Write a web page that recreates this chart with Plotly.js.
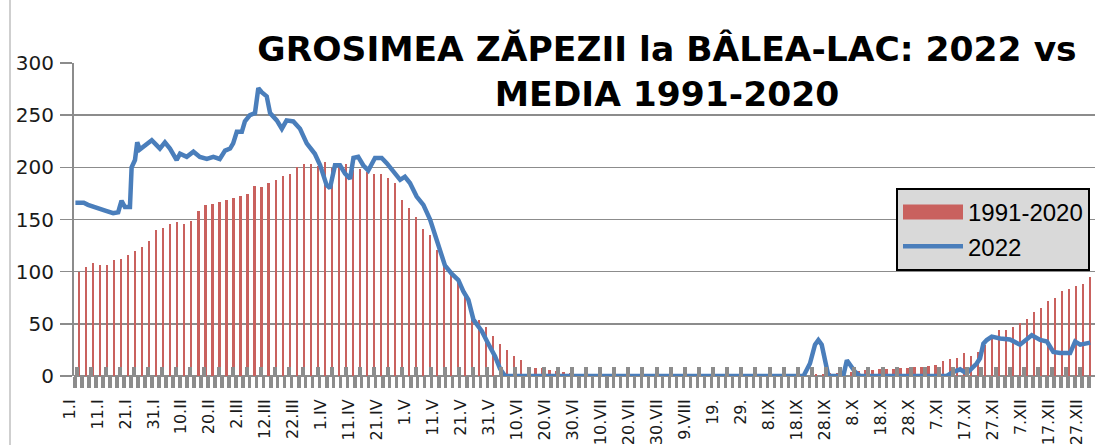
<!DOCTYPE html>
<html>
<head>
<meta charset="utf-8">
<script src="https://cdn.plot.ly/plotly-3.0.1.min.js"></script>
<style>
  html, body { margin: 0; padding: 0; background: #ffffff; }
  #wrap { position: relative; width: 1114px; height: 445px; }
  #chart { width: 1114px; height: 445px; }
  #frame { position: absolute; left: 9px; top: 0; width: 2px; height: 445px; background: #cfcfcf; pointer-events: none; }
</style>
</head>
<body>
<div id="wrap">
  <div id="chart"></div>
  <div id="frame"></div>
</div>
<script>
// ---- DATA ----
// Average snow depth 1991-2020 (cm), one bar every ~2.5 days from 1 Jan
const avgValues = [
  100,104,108,106,106,111,112,116,120,124,129,140,142,146,148,146,149,158,164,165,167,169,171,173,174,182,181,185,188,192,194,200,
  203,203,201,205,199,201,203,197,198,196,194,194,190,185,169,161,152,141,135,121,105,100,90,81,62,54,47,38,31,25,19,15,8,8,8,
  6,5,4,3,2,1,0,0,0,0,0,0,0,0,0,0,0,0,0,0,0,0,0,0,0,0,0,0,0,0,0,0,0,0,0,0,0,0,
  2,2,3,3,4,4,5,6,6,7,7,7,8,8,9,9,10,
  10.5,14,16,17.5,22,19,23,30,36,44,44,47,51,55,61,65,72,75,81.5,83,86,88,95
];
const avgFirstDay = 2.3;
const avgStepDays = 2.51;

// Snow depth 2022 (cm): day of year and value
const lineDays = [
  1,4,5.5,7.4,9.8,12.2,14.5,16.3,17.5,18.7,20.5,21.1,22.3,23.1,24,25.8,28.3,30.1,31.2,33,34.8,37.2,38.4,40.8,43.2,45.5,48,50.3,52.6,54.5,56.3,57.4,58.7,60.5,61.6,63.4,65.2,66.4,67.6,69.4,70.6,73,74.8,76.5,78.9,81.3,83.7,86.6,88.5,90.8,92,93.8,95.6,97.4,99.2,100.4,102.1,103.9,105.7,108.1,110.5,112.3,114.7,117.1,118.8,120.6,123,125.4,127.8,129.6,131.4,133.1,135.5,137.9,139.7,141.5,143.3,146.3,148.6,151,152.8,154.6,
  261.3,263.6,265.4,266.6,267.8,269,270.2,275.5,276.8,278,279.7,281.5,312.5,314.9,317.3,319.6,321.4,323.2,324.4,325.6,326.8,328.6,331.6,335.1,338.7,341.1,342.9,345.9,348.3,350.6,353,356.6,358.4,360.2,363.8
];
const lineValues = [
  166,166,164,162,160,158,156,157,168,162,162,200,207,224,217,221,226,221,218,224,218,207,213,210,215,210,208,210,208,216,218,223,234,234,244,250,252,276,272,268,252,245,237,245,244,237,223,213,202,183,180,202,202,194,189,209,210,202,197,209,209,204,196,188,191,185,172,164,150,134,118,106,98,92,81,73,54,43,31,19,7,0,
  0,12,30,34.5,30,12,0,0,15,10.5,4,0,0,4,6.4,2.5,7.3,12,17,31,34.5,37.7,36,35,30,34.5,39,34.5,33,23,22,22,33,30,32
];

// Category axis labels (every 10 days)
const tickDays = [1,11,21,31,41,51,61,71,81,91,101,111,121,131,141,151,161,171,181,191,201,211,221,231,241,251,261,271,281,291,301,311,321,331,341,351,361];
const tickLabels = ["1.I","11.I","21.I","31.I","10.II","20.II","2.III","12.III","22.III","1.IV","11.IV","21.IV","1.V","11.V","21.V","31.V","10.VI","20.VI","30.VI","10.VII","20.VII","30.VII","9.VIII","19.","29.","8.IX","18.IX","28.IX","8.X","18.X","28.X","7.XI","17.XI","27.XI","7.XII","17.XII","27.XII"];

const seriesNames = ["1991-2020", "2022"];
const titleText = "GROSIMEA ZĂPEZII la BÂLEA-LAC: 2022 vs<br>MEDIA 1991-2020";

// ---- CHART ----
const avgDays = avgValues.map((v, i) => avgFirstDay + avgStepDays * i);
const gridGray = '#8c8c8c';

const traces = [
  {
    type: 'bar',
    name: seriesNames[0],
    x: avgDays,
    y: avgValues,
    width: 0.8,
    marker: { color: '#c9615e', line: { width: 0 } },
    xaxis: 'x', yaxis: 'y'
  },
  {
    type: 'scatter',
    mode: 'lines',
    name: seriesNames[1],
    x: lineDays,
    y: lineValues,
    line: { color: '#4a7ebb', width: 4.5 },
    xaxis: 'x2', yaxis: 'y'
  }
];

const layout = {
  width: 1114,
  height: 445,
  margin: { l: 74, r: 19, t: 63, b: 69, pad: 0 },
  paper_bgcolor: '#ffffff',
  plot_bgcolor: '#ffffff',
  showlegend: true,
  bargap: 0,
  title: {
    text: titleText,
    font: { family: 'DejaVu Sans', size: 34.5, color: '#000000', weight: 'bold' },
    xref: 'paper', x: 0.5808, xanchor: 'center',
    yref: 'container', y: 1 - 61 / 445, yanchor: 'top'
  },
  xaxis: {
    range: [0.5, 365.5],
    showgrid: false,
    zeroline: false,
    showline: false,
    automargin: false,
    tickmode: 'array',
    tickvals: tickDays,
    ticktext: tickLabels,
    tickangle: -90,
    ticks: 'outside',
    ticklen: 11,
    tickwidth: 3.3,
    tickcolor: gridGray,
    ticklabelstandoff: 5,
    ticklabelshift: -6,
    tickfont: { family: 'DejaVu Sans', size: 16, color: '#1a1a1a' },
    minor: {
      tickmode: 'linear', tick0: 0.86, dtick: 2.5,
      ticks: 'outside', ticklen: 11, tickwidth: 3.3, tickcolor: gridGray,
      showgrid: false
    }
  },
  xaxis2: {
    overlaying: 'x',
    anchor: 'y',
    side: 'bottom',
    range: [0.5, 365.5],
    showgrid: false,
    zeroline: false,
    showline: false,
    showticklabels: false,
    automargin: false,
    tickmode: 'linear', tick0: 1.7, dtick: 5.05,
    ticks: 'inside', ticklen: 9, tickwidth: 4, tickcolor: gridGray
  },
  yaxis: {
    range: [0, 300],
    tickmode: 'linear', tick0: 0, dtick: 50,
    showgrid: true, gridcolor: gridGray, gridwidth: 1.6,
    zeroline: true, zerolinecolor: gridGray, zerolinewidth: 2,
    showline: true, linecolor: gridGray, linewidth: 2,
    ticks: 'outside', ticklen: 12, tickwidth: 1.6, tickcolor: gridGray,
    ticklabelstandoff: 2,
    automargin: false,
    tickfont: { family: 'DejaVu Sans', size: 20, color: '#1a1a1a' }
  },
  legend: {
    x: (896 - 74) / 1021, xanchor: 'left',
    y: (376 - 188) / 313, yanchor: 'top',
    bgcolor: '#d9d9d9',
    bordercolor: '#000000',
    borderwidth: 2,
    itemwidth: 60,
    font: { family: 'Liberation Sans', size: 24, color: '#000000' }
  }
};

Plotly.newPlot('chart', traces, layout, { displayModeBar: false, staticPlot: true }).then(function (gd) {
  // widen the bar swatch in the legend to the Excel-style wide rectangle
  var firstItem = gd.querySelector('.legend .traces');
  if (firstItem) {
    firstItem.querySelectorAll('.legendpoints path').forEach(function (p) {
      p.setAttribute('d', 'M30,7.5H-30V-7.5H30Z');
    });
  }
});
</script>
</body>
</html>
